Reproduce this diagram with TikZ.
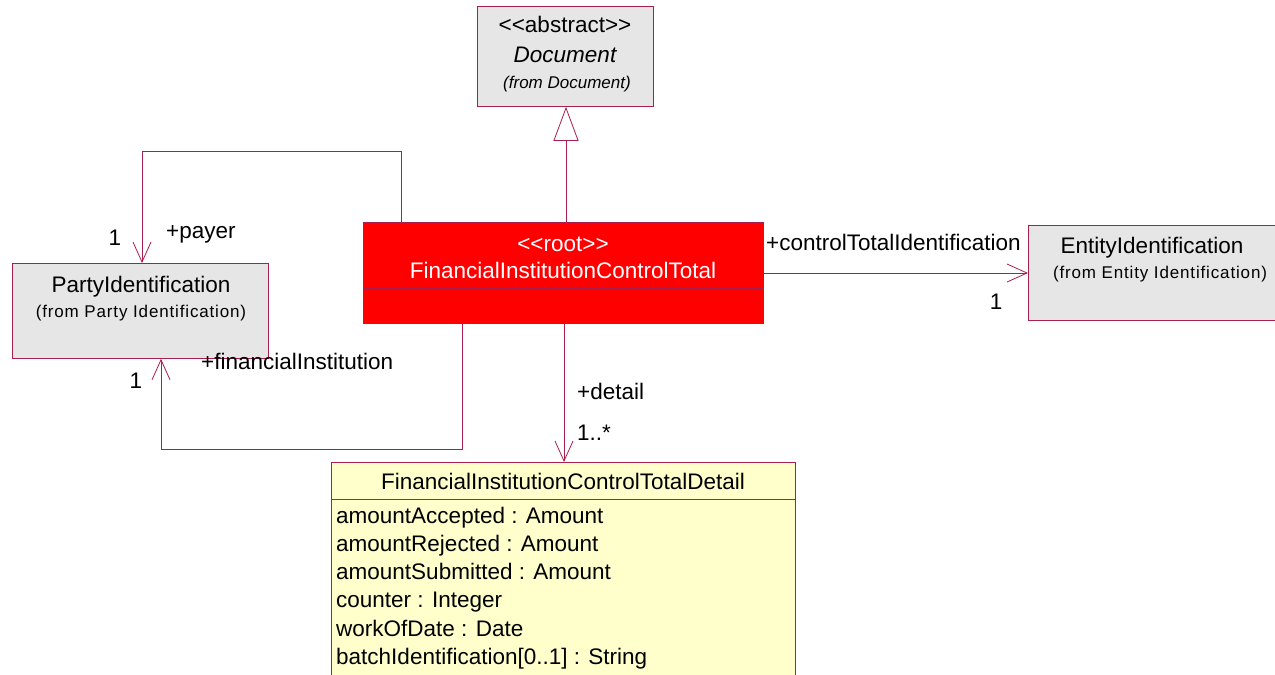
\documentclass[tikz,border=0pt]{standalone}
\usepackage{fontspec}
\setmainfont{Liberation Sans}
\usetikzlibrary{arrows.meta}
\definecolor{lnc}{RGB}{170,30,75}
\definecolor{grayfill}{RGB}{230,230,230}
\definecolor{yelfill}{RGB}{255,255,204}
\definecolor{rootred}{RGB}{255,0,0}
\tikzset{
  box/.style={draw=lnc, line width=0.8pt, inner sep=0pt, anchor=north west},
  txt/.style={inner sep=0pt, text height=20pt, text depth=2.5pt, font=\fontsize{22.5}{26}\selectfont},
  small/.style={inner sep=0pt, text height=14pt, text depth=1.5pt, font=\fontsize{17}{20}\selectfont},
  spaced/.style={small, font=\fontsize{17}{20}\selectfont\addfontfeature{LetterSpace=5}},
  assoc/.style={draw=lnc, line width=0.8pt, -{Straight Barb[length=20pt,width=18pt,line width=0.8pt]}},
  gen/.style={draw=lnc, line width=0.8pt, -{Triangle[open,length=34pt,width=25pt,line width=0.8pt,fill=white]}},
  plain/.style={draw=lnc, line width=0.8pt},
}
\begin{document}
\begin{tikzpicture}[x=1pt,y=-1pt]
\useasboundingbox (0,0) rectangle (1275,675);
% boxes
\node[box, fill=grayfill, minimum width=176pt, minimum height=100pt] (doc) at (477,6) {};
\node[box, fill=rootred, minimum width=400pt, minimum height=101pt] (root) at (363,222) {};
\draw[plain] (363,288) -- (763,288);
\node[box, fill=grayfill, minimum width=256pt, minimum height=95pt] (party) at (12,263) {};
\node[box, fill=grayfill, minimum width=250pt, minimum height=95pt] (entity) at (1028,225) {};
\node[box, fill=yelfill, minimum width=464pt, minimum height=230pt] (detail) at (331,462) {};
\draw[plain] (331,499) -- (795,499);
% texts
\node[txt] (t1) at (565,24) {<{}<abstract>{}>};
\node[txt] (t2) at (565,54) {\itshape Document};
\node[small] (t3) at (567,82) {\itshape (from Document)};
\node[txt, text=white] (t4) at (563,243) {<{}<root>{}>};
\node[txt, text=white] (t5) at (563,270) {FinancialInstitutionControlTotal};
\node[txt] (t6) at (141,284) {PartyIdentification};
\node[spaced] (t7) at (141,311) {(from Party Identification)};
\node[txt] (t8) at (1152,245) {EntityIdentification};
\node[spaced] (t9) at (1160,272) {(from Entity Identification)};
\node[txt] (t10) at (563,481) {FinancialInstitutionControlTotalDetail};
\node[txt, anchor=west] (a1) at (336,515) {amountAccepted : Amount};
\node[txt, anchor=west] (a2) at (336,543) {amountRejected : Amount};
\node[txt, anchor=west] (a3) at (336,571) {amountSubmitted : Amount};
\node[txt, anchor=west] (a4) at (336,599) {counter : Integer};
\node[txt, anchor=west] (a5) at (336,628) {workOfDate : Date};
\node[txt, anchor=west] (a6) at (336,656) {batchIdentification[0..1] : String};
% connectors
\coordinate (g) at (566,0);
\draw[gen] (root.north -| g) -- (doc.south -| g);
\coordinate (p1) at (401,151);
\coordinate (p2) at (142,151);
\draw[assoc] (root.north -| p1) -- (p1) -- (p2) -- (party.north -| p2);
\coordinate (f1) at (462,449);
\coordinate (f2) at (161,449);
\draw[assoc] (root.south -| f1) -- (f1) -- (f2) -- (party.south -| f2);
\coordinate (c) at (0,273);
\draw[assoc] (root.east |- c) -- (entity.west |- c);
\coordinate (d) at (564,0);
\draw[assoc] (root.south -| d) -- (detail.north -| d);
% labels
\node[txt] (l1) at (115,237) {1};
\node[txt, anchor=west] (l2) at (166,230) {+payer};
\node[txt] (l3) at (136,380) {1};
\node[txt, anchor=west] (l4) at (201,361) {+financialInstitution};
\node[txt, anchor=west] (l5) at (766,242) {+controlTotalIdentification};
\node[txt] (l6) at (996,301) {1};
\node[txt, anchor=west] (l7) at (577,391) {+detail};
\node[txt, anchor=west] (l8) at (577,432) {1..*};
\end{tikzpicture}
\end{document}
